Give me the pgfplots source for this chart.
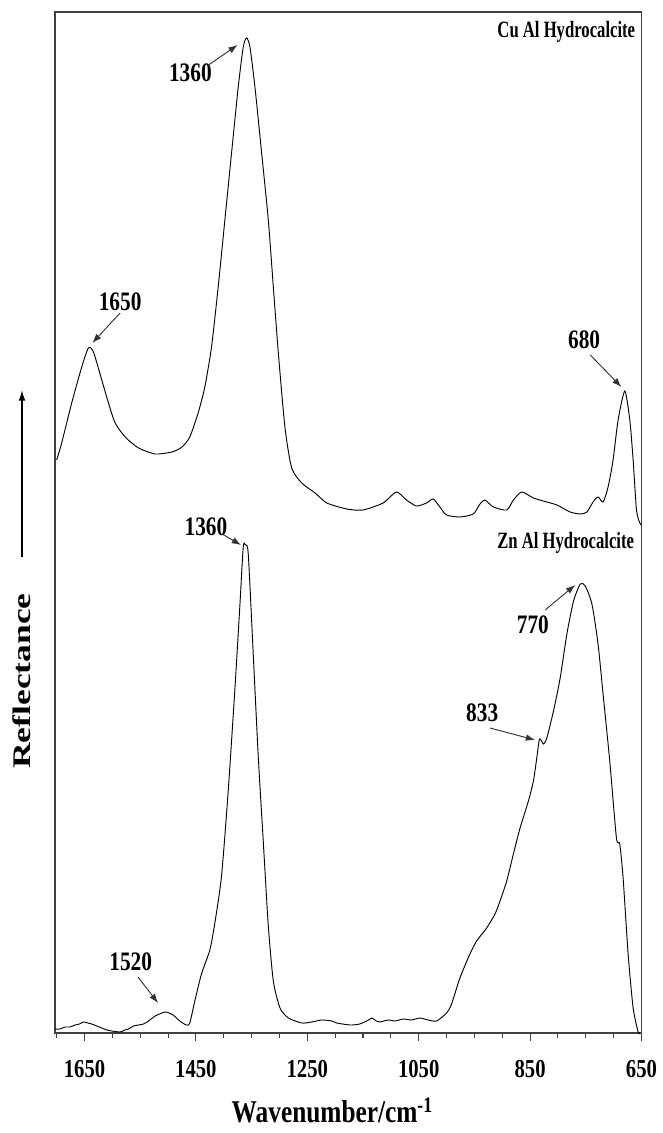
\documentclass[border=0pt]{standalone}
\usepackage{fontspec}
\setmainfont{Liberation Serif}
\usepackage{pgfplots}
\pgfplotsset{compat=1.18}
\usetikzlibrary{arrows.meta}
\newcommand\vs[1]{\scalebox{1}[1.25]{#1}}

\pgfplotstableread{
wn val
1700 573
1691 590
1673 630
1655 666
1643 685
1634 681
1619 653
1607 630
1595 610
1577 596
1553 585
1523 579
1493 581
1475 586
1461 596
1446 620
1434 646
1422 686
1410 746
1398 813
1386 880
1374 946
1365 986
1359 995
1353 986
1344 946
1332 880
1320 813
1311 746
1302 680
1290 605
1278 565
1260 550
1236 540
1215 530
1179 524
1150 523
1114 530
1090 541
1072 533
1054 527
1036 530
1024 534
1012 526
1000 518
976 516
952 519
940 529
931 533
916 526
892 523
880 533
865 541
844 535
820 531
802 528
778 521
760 519
748 521
737 531
728 536
719 531
710 546
701 573
692 613
680 642
671 613
665 573
659 523
653 510
650 508
}\cual

\pgfplotstableread{
wn val
1703 4
1694 4
1685 6
1676 6
1667 8
1659 9
1652 11
1644 10
1637 9
1628 7
1619 5
1610 3
1601 2
1586 1
1578 3
1571 4
1562 7
1553 8
1544 9
1535 12
1523 17
1505 21
1491 18
1479 12
1467 8
1461 10
1452 32
1440 59
1425 83
1416 110
1404 157
1392 242
1380 344
1371 428
1365 486
1361 488
1356 479
1347 378
1338 276
1329 191
1320 107
1311 52
1299 25
1284 15
1260 10
1242 11
1224 13
1206 12
1197 10
1173 8
1156 9
1140 13
1134 15
1126 12
1119 11
1105 13
1092 12
1078 14
1063 13
1048 15
1033 13
1018 12
1000 20
991 29
976 55
958 79
946 92
928 105
913 119
904 132
892 152
880 179
868 205
853 232
844 252
838 275
833 294
826 289
820 295
808 322
796 355
784 399
772 432
760 449
751 447
739 429
728 389
719 339
707 272
695 195
689 189
683 155
674 79
665 25
656 1
653 0
}\znal

\begin{document}
\begin{tikzpicture}
\path[use as bounding box] (-41.25pt,-75pt) rectangle (456pt,774.75pt);
\begin{axis}[
  at={(0pt,0pt)}, anchor=south west,
  width=439.875pt, height=765.75pt, scale only axis,
  xmin=650, xmax=1703, ymin=0, ymax=1021,
  x dir=reverse,
  axis line style={draw=black!75, line width=0.8pt},
  xtick={650,850,1050,1250,1450,1650},
  xticklabels={\vs{650},\vs{850},\vs{1050},\vs{1250},\vs{1450},\vs{1650}},
  minor xtick={700,750,...,1700},
  ytick=\empty,
  tick align=outside,
  xtick pos=lower,
  major tick length=6pt, minor tick length=4pt,
  tick style={black!75, line width=0.8pt},
  xticklabel style={font=\fontsize{15.5}{16}\selectfont\bfseries, yshift=-11pt},
  clip=false,
]
\addplot[black, line width=0.7pt, smooth, tension=0.4] table[x=wn, y=val] {\cual};
\addplot[black, line width=0.7pt, smooth, tension=0.4] table[x=wn, y=val] {\znal};

\tikzset{ann/.style={font=\fontsize{16}{16}\selectfont\bfseries},
         lab/.style={font=\fontsize{12.5}{13}\selectfont\bfseries},
         arr/.style={-{Latex[length=7pt,width=5pt]}, black!80, line width=0.7pt}}
% Cu Al
\node[lab, anchor=east] at (axis cs:653,1001) {\scalebox{1}[1.4]{Cu Al Hydrocalcite}};
\node[ann] at (axis cs:1460,960) {\vs{1360}};
\draw[arr] (axis cs:1430,967) -- (axis cs:1375,988);
\node[ann] at (axis cs:1586,731) {\vs{1650}};
\draw[arr] (axis cs:1586,720) -- (axis cs:1636,690);
\node[ann] at (axis cs:753,693) {\vs{680}};
\draw[arr] (axis cs:742,678) -- (axis cs:686,646);
% Zn Al
\node[lab, anchor=east] at (axis cs:655,490) {\scalebox{1}[1.4]{Zn Al Hydrocalcite}};
\node[ann] at (axis cs:1432,506) {\vs{1360}};
\draw[arr] (axis cs:1403,499) -- (axis cs:1369,488);
\node[ann] at (axis cs:845,408) {\vs{770}};
\draw[arr] (axis cs:823,423) -- (axis cs:769,448);
\node[ann] at (axis cs:936,320) {\vs{833}};
\draw[arr] (axis cs:922,305) -- (axis cs:841,293);
\node[ann] at (axis cs:1567,71) {\vs{1520}};
\draw[arr] (axis cs:1554,56) -- (axis cs:1518,30);
\end{axis}
\node[rotate=90, font=\fontsize{19}{19}\selectfont\bfseries] at (-24.75pt,264pt) {\scalebox{1.4}[1]{Reflectance}};
\draw[-{Latex[length=8pt,width=5pt]}, line width=1pt] (-24.75pt,357pt) -- (-24.75pt,482.25pt);
\node[font=\fontsize{19}{19}\selectfont\bfseries] at (208pt,-58pt) {\vs{Wavenumber/cm\textsuperscript{-1}}};
\end{tikzpicture}
\end{document}
